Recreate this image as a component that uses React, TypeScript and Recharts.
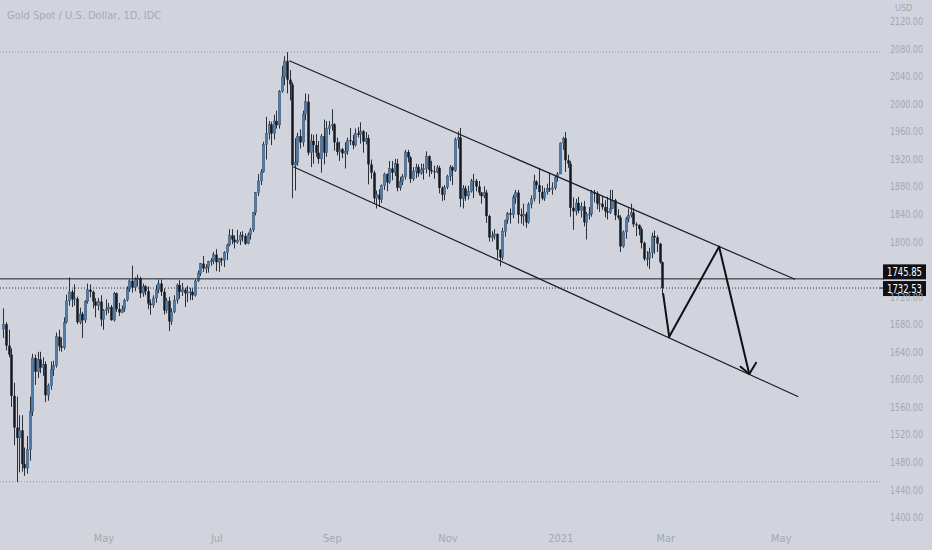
import React from 'react';
import { ComposedChart, Bar, XAxis, YAxis, ReferenceLine } from 'recharts';

// Gold spot daily candles, 9 Mar 2020 .. 26 Feb 2021 (one entry per trading day)
const opens = [
  1673, 1680, 1649, 1636, 1576, 1530, 1515, 1526, 1477, 1471, 1498, 1553, 1631, 1611, 1629, 1617, 1622,
  1577, 1591, 1614, 1620, 1662, 1648, 1646, 1683, 1714, 1727, 1716, 1717, 1683, 1695, 1686, 1713, 1730, 1727, 1713, 1707, 1713,
  1687, 1700, 1702, 1705, 1686, 1725, 1702, 1697, 1702, 1715, 1731, 1743, 1733, 1745, 1747, 1725, 1735, 1728, 1710, 1708, 1718,
  1730, 1739, 1727, 1700, 1714, 1684, 1698, 1715, 1737, 1727, 1730, 1725, 1727, 1727, 1722, 1743, 1754, 1768, 1761, 1763, 1771, 1772,
  1781, 1770, 1775, 1773, 1784, 1795, 1809, 1803, 1799, 1802, 1809, 1808, 1797, 1810, 1817, 1842, 1871, 1888, 1901, 1941, 1957, 1970, 1957,
  1975, 1969, 2018, 2039, 2062, 2035, 2028, 1911, 1915, 1953, 1944, 1985, 2003, 1929, 1946, 1940, 1929, 1920, 1953, 1929, 1964,
  1968, 1970, 1944, 1930, 1934, 1928, 1931, 1947, 1946, 1940, 1957, 1955, 1960, 1945, 1950, 1912, 1900, 1863, 1868, 1861, 1881, 1898,
  1886, 1906, 1900, 1913, 1878, 1887, 1894, 1930, 1922, 1891, 1902, 1908, 1899, 1904, 1906, 1924, 1904, 1902, 1901, 1907, 1878, 1868,
  1879, 1895, 1908, 1903, 1948, 1951, 1862, 1877, 1866, 1873, 1888, 1888, 1880, 1871, 1866, 1871, 1837, 1806, 1808, 1811, 1788,
  1777, 1815, 1831, 1841, 1839, 1864, 1871, 1839, 1837, 1840, 1828, 1854, 1862, 1887, 1882, 1872, 1863, 1872, 1877, 1876, 1878, 1893,
  1898, 1943, 1950, 1918, 1913, 1849, 1844, 1856, 1845, 1851, 1828, 1840, 1840, 1871, 1870, 1855, 1855, 1850, 1844, 1842,
  1848, 1860, 1838, 1835, 1793, 1814, 1833, 1838, 1842, 1825, 1824, 1818, 1798, 1775, 1775, 1784, 1808, 1806, 1797, 1770,
];
const highs = [
  1703, 1683, 1672, 1645, 1595, 1575, 1548, 1548, 1501, 1518, 1575, 1637, 1636, 1640, 1640, 1632, 1626,
  1594, 1626, 1627, 1668, 1672, 1661, 1690, 1723, 1748, 1730, 1738, 1720, 1704, 1698, 1715, 1739, 1738, 1729, 1718, 1718, 1722,
  1702, 1716, 1711, 1708, 1727, 1726, 1711, 1707, 1717, 1735, 1745, 1765, 1748, 1752, 1749, 1739, 1737, 1735, 1716, 1722, 1737,
  1745, 1745, 1732, 1718, 1720, 1703, 1722, 1739, 1744, 1740, 1733, 1736, 1733, 1732, 1745, 1758, 1769, 1779, 1767, 1772, 1776, 1785,
  1789, 1776, 1777, 1786, 1797, 1818, 1818, 1809, 1817, 1814, 1815, 1812, 1813, 1820, 1843, 1872, 1898, 1905, 1945, 1981, 1975, 1974, 1984,
  1990, 2020, 2055, 2069, 2075, 2049, 2031, 1950, 1958, 1963, 1990, 2015, 2014, 1956, 1955, 1956, 1946, 1956, 1977, 1975, 1975,
  1992, 1972, 1951, 1945, 1936, 1944, 1951, 1965, 1955, 1964, 1966, 1973, 1962, 1959, 1955, 1919, 1903, 1874, 1876, 1883, 1900, 1899,
  1917, 1917, 1920, 1920, 1894, 1898, 1933, 1933, 1924, 1908, 1913, 1912, 1913, 1913, 1931, 1925, 1917, 1910, 1911, 1910, 1880, 1882,
  1897, 1911, 1910, 1951, 1960, 1965, 1882, 1881, 1881, 1891, 1898, 1891, 1888, 1872, 1880, 1875, 1839, 1815, 1818, 1812, 1789,
  1820, 1832, 1843, 1848, 1868, 1875, 1875, 1848, 1855, 1843, 1857, 1867, 1897, 1889, 1907, 1881, 1878, 1884, 1900, 1886, 1896, 1901,
  1944, 1952, 1959, 1926, 1917, 1864, 1862, 1865, 1857, 1859, 1843, 1850, 1875, 1875, 1873, 1867, 1866, 1860, 1865, 1875,
  1875, 1862, 1847, 1838, 1816, 1836, 1848, 1855, 1849, 1828, 1825, 1821, 1800, 1786, 1791, 1813, 1816, 1809, 1798, 1771,
];
const lows = [
  1660, 1642, 1632, 1560, 1504, 1451, 1465, 1466, 1460, 1463, 1482, 1547, 1592, 1602, 1609, 1605, 1567,
  1569, 1585, 1605, 1617, 1641, 1640, 1643, 1681, 1707, 1705, 1707, 1680, 1680, 1660, 1682, 1710, 1719, 1703, 1690, 1700, 1677,
  1672, 1693, 1696, 1685, 1684, 1698, 1692, 1696, 1698, 1713, 1727, 1726, 1728, 1735, 1718, 1720, 1722, 1702, 1694, 1704, 1711,
  1725, 1721, 1694, 1696, 1670, 1679, 1696, 1710, 1717, 1721, 1705, 1712, 1715, 1715, 1720, 1741, 1750, 1756, 1754, 1755, 1765, 1767,
  1757, 1756, 1765, 1763, 1773, 1793, 1796, 1790, 1797, 1795, 1800, 1795, 1796, 1803, 1814, 1838, 1866, 1882, 1900, 1919, 1948, 1940, 1948,
  1964, 1964, 2016, 2027, 2015, 2005, 1863, 1874, 1910, 1935, 1938, 1976, 1925, 1908, 1913, 1923, 1913, 1900, 1912, 1923, 1955,
  1961, 1932, 1925, 1917, 1921, 1906, 1926, 1940, 1934, 1938, 1951, 1942, 1929, 1941, 1883, 1891, 1855, 1848, 1850, 1856, 1875, 1873,
  1884, 1889, 1895, 1873, 1874, 1882, 1890, 1915, 1885, 1888, 1892, 1894, 1897, 1890, 1899, 1894, 1898, 1891, 1899, 1870, 1859, 1860,
  1876, 1888, 1882, 1901, 1935, 1850, 1848, 1859, 1861, 1871, 1863, 1873, 1867, 1855, 1863, 1827, 1800, 1800, 1803, 1775, 1764,
  1773, 1807, 1826, 1826, 1834, 1855, 1826, 1826, 1823, 1820, 1826, 1848, 1858, 1876, 1855, 1860, 1859, 1868, 1872, 1868, 1875, 1887,
  1898, 1933, 1901, 1907, 1836, 1817, 1838, 1841, 1835, 1822, 1803, 1832, 1836, 1857, 1847, 1843, 1846, 1835, 1832, 1840,
  1847, 1831, 1832, 1785, 1791, 1804, 1828, 1835, 1821, 1808, 1809, 1790, 1772, 1764, 1760, 1776, 1782, 1785, 1768, 1724,
];
const closes = [
  1680, 1649, 1636, 1576, 1530, 1515, 1526, 1477, 1471, 1498, 1553, 1631, 1611, 1629, 1617, 1622, 1577,
  1591, 1614, 1620, 1662, 1648, 1646, 1683, 1714, 1727, 1716, 1717, 1683, 1695, 1686, 1713, 1730, 1727, 1713, 1707, 1713, 1687,
  1700, 1702, 1705, 1686, 1725, 1702, 1697, 1702, 1715, 1731, 1743, 1733, 1745, 1747, 1725, 1735, 1728, 1710, 1708, 1718, 1730,
  1739, 1727, 1700, 1714, 1684, 1698, 1715, 1737, 1727, 1730, 1725, 1727, 1727, 1722, 1743, 1754, 1768, 1761, 1763, 1771, 1772, 1781,
  1770, 1775, 1773, 1784, 1795, 1809, 1803, 1799, 1802, 1809, 1808, 1797, 1810, 1817, 1842, 1871, 1888, 1901, 1941, 1957, 1970, 1957, 1975,
  1969, 2018, 2039, 2062, 2035, 2028, 1911, 1915, 1953, 1944, 1985, 2003, 1929, 1946, 1940, 1929, 1920, 1953, 1929, 1964, 1968,
  1970, 1944, 1930, 1934, 1928, 1931, 1947, 1946, 1940, 1957, 1955, 1960, 1945, 1950, 1912, 1900, 1863, 1868, 1861, 1881, 1898, 1886,
  1906, 1900, 1913, 1878, 1887, 1894, 1930, 1922, 1891, 1902, 1908, 1899, 1904, 1906, 1924, 1904, 1902, 1901, 1907, 1878, 1868, 1879,
  1895, 1908, 1903, 1948, 1951, 1862, 1877, 1866, 1873, 1888, 1888, 1880, 1871, 1866, 1871, 1837, 1806, 1808, 1811, 1788, 1777,
  1815, 1831, 1841, 1839, 1864, 1871, 1839, 1837, 1840, 1828, 1854, 1862, 1887, 1882, 1872, 1863, 1872, 1877, 1876, 1878, 1893, 1898,
  1943, 1950, 1918, 1913, 1849, 1844, 1856, 1845, 1851, 1828, 1840, 1840, 1871, 1870, 1855, 1855, 1850, 1844, 1842, 1848,
  1860, 1838, 1835, 1793, 1814, 1833, 1838, 1842, 1825, 1824, 1818, 1798, 1775, 1775, 1784, 1808, 1806, 1797, 1770, 1732.53,
];

// time axis: trading-day index of the first session of each labelled month
const monthTicks = [38, 81, 125, 169, 212, 252, 296];
const monthLabels = ['May', 'Jul', 'Sep', 'Nov', '2021', 'Mar', 'May'];
const priceTicks = [2120, 2080, 2040, 2000, 1960, 1920, 1880, 1840, 1800, 1720, 1680, 1640, 1600, 1560, 1520, 1480, 1440, 1400];

const levelPrice = 1745.85;
const lastPrice = 1732.53;
const rangeHigh = 2075.1;
const rangeLow = 1451.4;

// drawings (bar index, price)
const upperChannel = [{ x: 108.6, y: 2062.5 }, { x: 301.2, y: 1745.2 }];
const lowerChannel = [{ x: 110.1, y: 1908.6 }, { x: 302.5, y: 1574.8 }];
const pathIdx = [251, 253.3, 272.3, 283.8];
const pathPrice = [1724, 1661.9, 1792.5, 1607.7];
const arrowWings = [{ x: 280.5, y: 1618.3 }, { x: 286.4, y: 1624.1 }];

const data = opens.map((o, i) => ({
  i,
  o,
  h: highs[i],
  l: lows[i],
  c: closes[i],
  range: [lows[i], highs[i]],
}));

const BG = '#d1d4dc';
const FONT = "'DejaVu Sans Condensed', 'Liberation Sans', sans-serif";
const AXIS_TEXT = '#a4a8b1';

const Candle = (props: any) => {
  const { x, y, width, height, payload } = props;
  if (x == null || !payload) return null;
  const top = Math.min(y, y + height);
  const span = Math.abs(height);
  const { o, h, l, c } = payload;
  const toPx = (v: number) => (h === l ? top : top + ((h - v) / (h - l)) * span);
  const cx = Math.floor(x + width / 2) + 0.5;
  const up = c >= o;
  const b1 = toPx(Math.max(o, c));
  const b2 = toPx(Math.min(o, c));
  return (
    <g>
      <line x1={cx} x2={cx} y1={top} y2={top + span} stroke="#2c3039" strokeWidth={1} />
      <rect
        x={cx - 1.25}
        y={b1}
        width={2.5}
        height={Math.max(1, b2 - b1)}
        fill={up ? '#4f7dab' : '#151820'}
        stroke={up ? '#3a4a5e' : 'none'}
        strokeWidth={up ? 0.4 : 0}
      />
    </g>
  );
};

const PriceTag = (props: any) => {
  const { viewBox, text, dy } = props;
  if (!viewBox) return null;
  const right = viewBox.x + viewBox.width;
  const cy = viewBox.y + dy;
  return (
    <g>
      <line x1={right} x2={right + 4} y1={viewBox.y} y2={viewBox.y} stroke="#131722" />
      <rect x={right + 3} y={cy - 7.5} width={43} height={15} fill="#0e1016" />
      <text
        x={right + 7}
        y={cy + 4.5}
        fill="#ffffff"
        fontSize={12}
        fontFamily={FONT}
        textLength={35}
        lengthAdjust="spacingAndGlyphs"
      >
        {text}
      </text>
    </g>
  );
};

const PriceTick = (props: any) => {
  const { y, payload } = props;
  return (
    <text
      x={890}
      y={y + 4}
      fill={AXIS_TEXT}
      fontSize={11}
      fontFamily={FONT}
      textLength={33}
      lengthAdjust="spacingAndGlyphs"
    >
      {payload.value.toFixed(2)}
    </text>
  );
};

const TimeTick = (props: any) => {
  const { x, y, payload } = props;
  const k = monthTicks.indexOf(payload.value);
  return (
    <text x={x} y={y + 9} textAnchor="middle" fill={AXIS_TEXT} fontSize={11} fontFamily={FONT}>
      {monthLabels[k]}
    </text>
  );
};

export default function App() {
  const seg = (a: { x: number; y: number }, b: { x: number; y: number }) => [a, b];
  return (
    <div style={{ position: 'absolute', left: 0, top: 0, width: 932, height: 550, background: BG, overflow: 'hidden' }}>
      <div
        style={{
          position: 'absolute',
          left: 7,
          top: 9,
          fontFamily: FONT,
          fontSize: 11,
          color: '#a6a9b2',
          whiteSpace: 'nowrap',
        }}
      >
        Gold Spot / U.S. Dollar, 1D, IDC
      </div>
      <div
        style={{
          position: 'absolute',
          left: 895,
          top: 3,
          fontFamily: FONT,
          fontSize: 9,
          color: AXIS_TEXT,
        }}
      >
        USD
      </div>
      <ComposedChart width={932} height={550} data={data} margin={{ top: 0, right: 0, bottom: 0, left: 0 }}>
        <XAxis
          dataKey="i"
          type="number"
          domain={[-1.62, 333.6]}
          allowDataOverflow
          ticks={monthTicks}
          tick={<TimeTick />}
          axisLine={false}
          tickLine={false}
          height={25}
        />
        <YAxis
          orientation="right"
          type="number"
          domain={[1388.6, 2150.6]}
          allowDataOverflow
          ticks={priceTicks}
          tick={<PriceTick />}
          axisLine={false}
          tickLine={false}
          width={52}
        />
        <ReferenceLine y={rangeHigh} stroke="#8f939c" strokeDasharray="1 2" />
        <ReferenceLine y={rangeLow} stroke="#8f939c" strokeDasharray="1 2" />
        <Bar dataKey="range" barSize={2} shape={<Candle />} isAnimationActive={false} />
        <ReferenceLine
          y={levelPrice}
          stroke="#1c1f27"
          strokeWidth={1}
          label={<PriceTag text="1745.85" dy={-7} />}
          ifOverflow="visible"
        />
        <ReferenceLine
          y={lastPrice}
          stroke="#2a2e39"
          strokeDasharray="1 2"
          label={<PriceTag text="1732.53" dy={0.5} />}
          ifOverflow="visible"
        />
        <ReferenceLine segment={upperChannel} stroke="#1a1d25" strokeWidth={1.2} ifOverflow="visible" />
        <ReferenceLine segment={lowerChannel} stroke="#1a1d25" strokeWidth={1.2} ifOverflow="visible" />
        {pathIdx.slice(1).map((xi, k) => (
          <ReferenceLine
            key={`p${k}`}
            segment={seg({ x: pathIdx[k], y: pathPrice[k] }, { x: xi, y: pathPrice[k + 1] })}
            stroke="#0e1016"
            strokeWidth={2}
            strokeLinecap="round"
            ifOverflow="visible"
          />
        ))}
        {arrowWings.map((w, k) => (
          <ReferenceLine
            key={`w${k}`}
            segment={seg(w, { x: pathIdx[3], y: pathPrice[3] })}
            stroke="#0e1016"
            strokeWidth={2}
            strokeLinecap="round"
            ifOverflow="visible"
          />
        ))}
      </ComposedChart>
    </div>
  );
}
